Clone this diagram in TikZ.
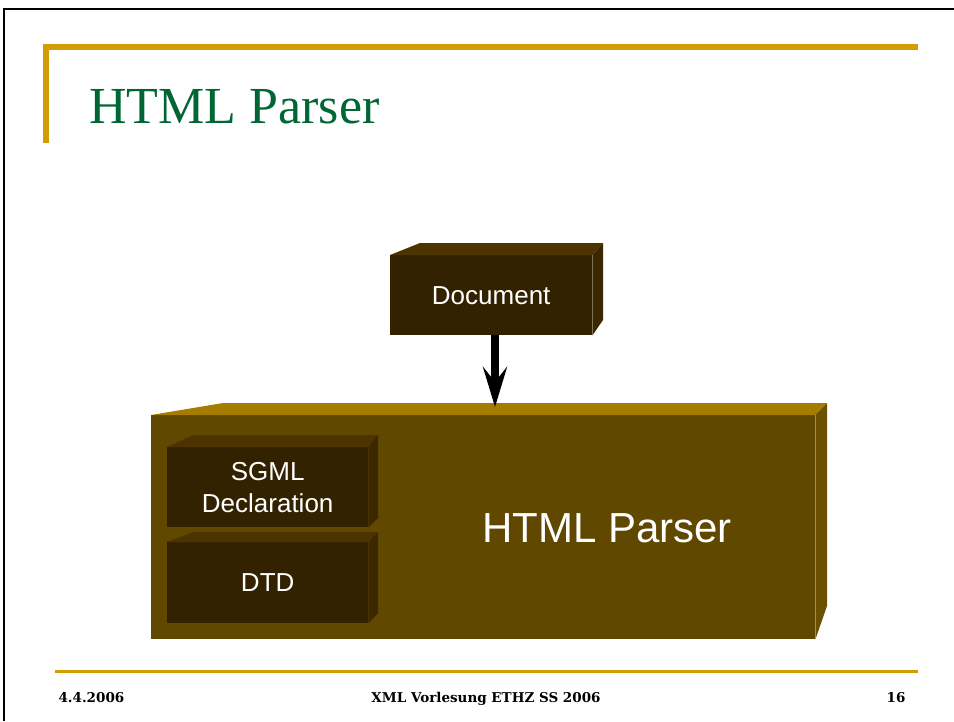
\documentclass[tikz,border=0pt]{standalone}
\usepackage{fontspec}
\setmainfont{Liberation Serif}
\newfontfamily\boxfont{Liberation Sans}
\newfontfamily\footfont{DejaVu Serif}
\usetikzlibrary{arrows.meta}

\definecolor{rulegold}{RGB}{209,157,0}
\definecolor{titlegreen}{RGB}{0,102,51}
\definecolor{bigfront}{RGB}{96,72,0}
\definecolor{bigtop}{RGB}{166,124,0}
\definecolor{bigside}{RGB}{107,80,0}
\definecolor{smallfront}{RGB}{51,34,0}
\definecolor{smalltop}{RGB}{77,51,0}
\definecolor{smallside}{RGB}{60,40,0}

\tikzset{
  darkbox/.style={fill=smallfront, draw=none, anchor=north west, inner sep=0pt,
    text=white, font=\boxfont\fontsize{26}{31}\selectfont, align=center},
  parserbox/.style={fill=bigfront, draw=none, anchor=north west, inner sep=0pt},
  goldrule/.style={draw=rulegold, line width=6pt},
  foottext/.style={font=\footfont\bfseries\fontsize{13.5}{16}\selectfont, anchor=base},
}

\begin{document}
\begin{tikzpicture}[x=1pt, y=-1pt]
  \useasboundingbox (0,0) rectangle (954,721);
  \fill[white] (0,0) rectangle (954,721);

  % slide frame
  \draw[black, line width=2.5pt] (4,721) -- (4,9) -- (954,9);

  % header rules and title
  \draw[goldrule] (46,143) -- (46,47) -- (918,47);
  \node[text=titlegreen, anchor=base west, inner sep=0pt,
        font=\fontsize{52}{60}\selectfont] (title) at (89,123) {HTML Parser};

  % parser block
  \node[parserbox, minimum width=664pt, minimum height=224pt] (parser) at (151,415) {};
  \fill[bigtop] (parser.north west) -- (223,403) -- (827,403) -- (parser.north east) -- cycle;
  \fill[bigside] (parser.north east) -- (827,403) -- (827,606) -- (parser.south east) -- cycle;
  \node[text=white, font=\boxfont\fontsize{42}{50}\selectfont, inner sep=0pt]
    (parserlabel) at (607,528) {HTML Parser};

  % document block
  \node[darkbox, minimum width=202pt, minimum height=80pt] (doc) at (390,255) {Document};
  \fill[smalltop] (doc.north west) -- (420,243) -- (603,243) -- (doc.north east) -- cycle;
  \fill[smallside] (doc.north east) -- (603,243) -- (603,320) -- (doc.south east) -- cycle;

  % SGML declaration block
  \node[darkbox, minimum width=201pt, minimum height=80pt] (sgml) at (167,447)
    {SGML\\[1pt]Declaration};
  \fill[smalltop] (sgml.north west) -- (193,435) -- (378,435) -- (sgml.north east) -- cycle;
  \fill[smallside] (sgml.north east) -- (378,435) -- (378,518) -- (sgml.south east) -- cycle;

  % DTD block
  \node[darkbox, minimum width=201pt, minimum height=81pt] (dtd) at (167,542) {DTD};
  \fill[smalltop] (dtd.north west) -- (193,532) -- (378,532) -- (dtd.north east) -- cycle;
  \fill[smallside] (dtd.north east) -- (378,532) -- (378,613) -- (dtd.south east) -- cycle;

  % input arrow
  \coordinate (tip) at (495,407);
  \draw[line width=8pt, -{Stealth[length=40pt, width=24pt, inset=15pt]}]
    (doc.south -| tip) -- (tip);

  % footer
  \draw[draw=rulegold, line width=3pt] (55,671) -- (918,671);
  \node[foottext, anchor=base west] (date) at (55,702) {4.4.2006};
  \node[foottext] (course) at (486,702) {XML Vorlesung ETHZ SS 2006};
  \node[foottext, anchor=base east] (page) at (909,702) {16};
\end{tikzpicture}
\end{document}
